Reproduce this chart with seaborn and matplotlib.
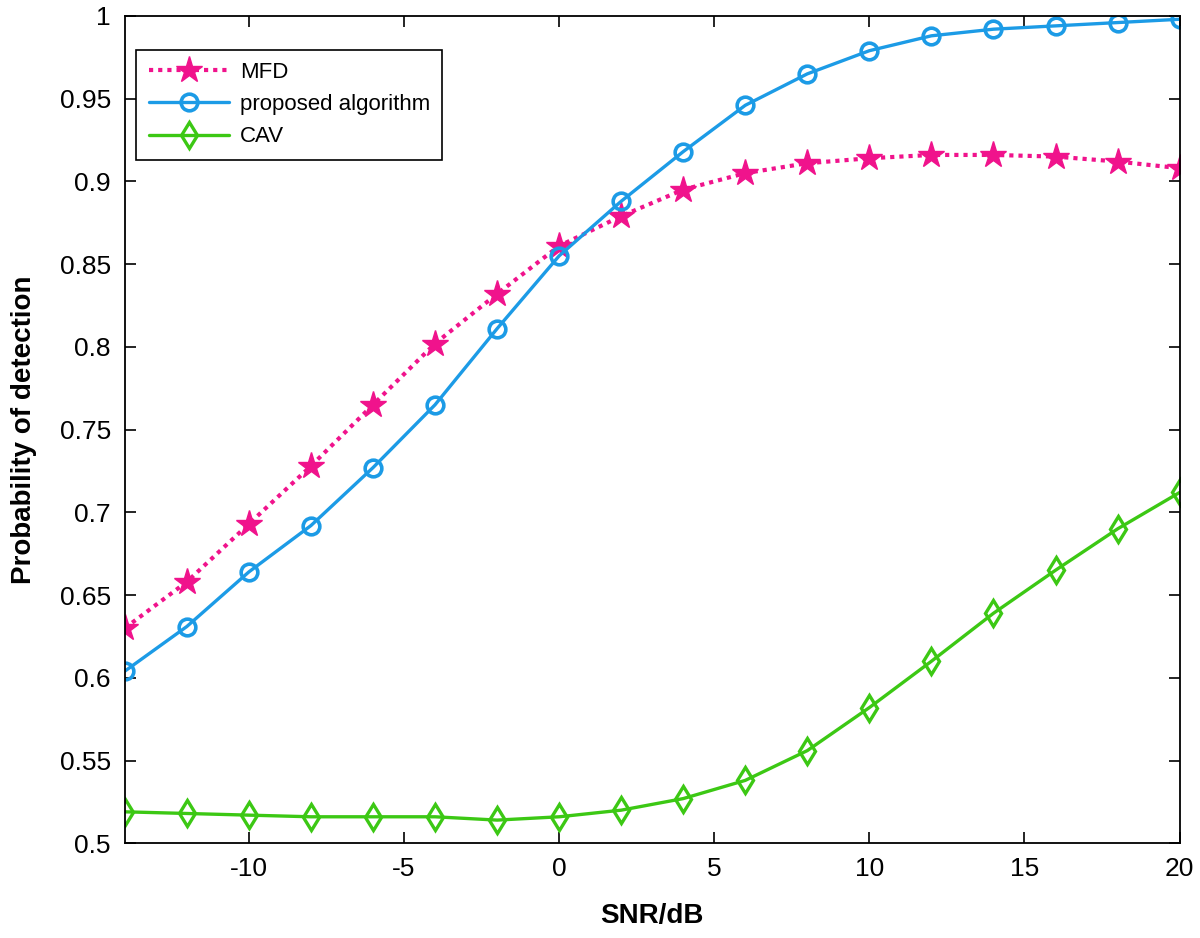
import numpy as np
import pandas as pd
import matplotlib
matplotlib.use("Agg")
import matplotlib.pyplot as plt
import seaborn as sns
from matplotlib.ticker import FuncFormatter

snr = [-14, -12, -10, -8, -6, -4, -2, 0, 2, 4, 6, 8, 10, 12, 14, 16, 18, 20]
mfd = [0.630, 0.658, 0.693, 0.728, 0.765, 0.802, 0.832, 0.861, 0.879, 0.895,
       0.905, 0.911, 0.914, 0.916, 0.916, 0.915, 0.912, 0.908]
proposed = [0.604, 0.631, 0.664, 0.692, 0.727, 0.765, 0.811, 0.855, 0.888, 0.918,
            0.946, 0.965, 0.979, 0.988, 0.992, 0.994, 0.996, 0.998]
cav = [0.519, 0.518, 0.517, 0.516, 0.516, 0.516, 0.514, 0.516, 0.520, 0.527,
       0.538, 0.556, 0.582, 0.610, 0.639, 0.665, 0.690, 0.712]

x_ticks = [-10, -5, 0, 5, 10, 15, 20]
y_ticks = [0.5, 0.55, 0.6, 0.65, 0.7, 0.75, 0.8, 0.85, 0.9, 0.95, 1.0]

sns.set_style("ticks")
plt.rcParams['font.family'] = ['Liberation Sans', 'DejaVu Sans']
plt.rcParams['axes.unicode_minus'] = False
plt.rcParams['text.color'] = 'black'
plt.rcParams['axes.labelcolor'] = 'black'

fig = plt.figure(figsize=(12, 9.38), dpi=100)
ax = fig.add_axes([0.104, 0.101, 0.879, 0.882])

c_mfd = "#F0138C"
c_prop = "#1C9BE6"
c_cav = "#3CC814"

sns.lineplot(x=snr, y=mfd, ax=ax, color=c_mfd, linestyle=(0, (1, 1.2)), linewidth=3,
             marker="*", markersize=20, markeredgewidth=1, markeredgecolor=c_mfd,
             label="MFD")
sns.lineplot(x=snr, y=proposed, ax=ax, color=c_prop, linewidth=2.4,
             marker="o", markersize=12, markerfacecolor="none", markeredgewidth=2.6,
             markeredgecolor=c_prop, label="proposed algorithm")
sns.lineplot(x=snr, y=cav, ax=ax, color=c_cav, linewidth=2.4,
             marker="d", markersize=13, markerfacecolor="none", markeredgewidth=2.4,
             markeredgecolor=c_cav, label="CAV")

ax.set_xlim(-14, 20)
ax.set_ylim(0.5, 1.0)
ax.set_xticks(x_ticks)
ax.set_yticks(y_ticks)
ax.xaxis.set_major_formatter(FuncFormatter(lambda v, p: f"{v:g}"))
ax.yaxis.set_major_formatter(FuncFormatter(lambda v, p: f"{v:g}"))
ax.tick_params(direction="in", top=True, right=True, length=8, width=1.2,
               labelsize=19, pad=10, colors="black")
for s in ax.spines.values():
    s.set_visible(True)
    s.set_linewidth(1.3)
    s.set_color("black")

ax.set_xlabel("SNR/dB", fontsize=20, fontweight="bold", labelpad=16, color="black")
ax.set_ylabel("Probability of detection", fontsize=20, fontweight="bold", labelpad=16,
              color="black")

leg = ax.legend(loc="upper left", bbox_to_anchor=(0.011, 0.959), fontsize=16,
                handlelength=3.6, frameon=True, fancybox=False, borderpad=0.55,
                labelspacing=0.5, handletextpad=0.5, borderaxespad=0)
leg.get_frame().set_edgecolor("black")
leg.get_frame().set_linewidth(1.2)
leg.get_frame().set_alpha(1)

fig.savefig("out.png", dpi=100)
